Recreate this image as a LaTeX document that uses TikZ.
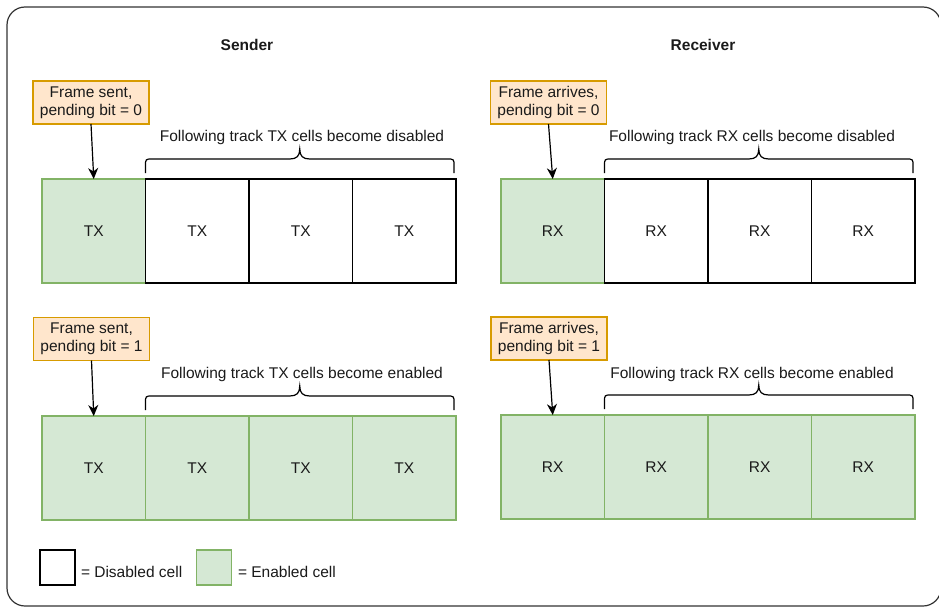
\documentclass[tikz,border=0pt]{standalone}
\usepackage{fontspec}
\setmainfont{Liberation Sans}
\usetikzlibrary{arrows.meta,calc}

\definecolor{enfill}{HTML}{D5E8D4}
\definecolor{enline}{HTML}{82B366}
\definecolor{notefill}{HTML}{FFE6CC}
\definecolor{noteline}{HTML}{D79B00}
\definecolor{framecol}{HTML}{333333}
\definecolor{ink}{HTML}{1A1A1A}

\begin{document}
\begin{tikzpicture}[x=1pt,y=-1pt,
  every node/.style={font=\fontsize{15.5}{18}\selectfont, text=ink, inner sep=0pt, outer sep=0pt},
  offcell/.style={draw=black, fill=white, line width=1.2pt, minimum width=103.5pt, minimum height=104pt},
  oncell/.style={offcell, draw=enline, fill=enfill},
  note/.style={draw=noteline, fill=notefill, line width=1.2pt, minimum width=116pt, minimum height=43pt, align=center},
  heading/.style={font=\fontsize{15.5}{18}\selectfont\bfseries},
  caption/.style={anchor=base},
  pointer/.style={-{Stealth[length=11pt,width=10pt,inset=3.5pt]}, line width=1.2pt},
  curly/.style={line width=1.2pt, to path={
    let \p1=(\tikztostart), \p2=(\tikztotarget),
        \p3=($(\tikztostart)!0.5!(\tikztotarget)$) in
    -- (\x1,\y1+7)
    .. controls (\x1,\y1+14) .. (\x1+7,\y1+14)
    -- (\x3-10,\y1+14)
    .. controls (\x3-3,\y1+14) and (\x3,\y1+17) .. (\x3,\y1+24)
    .. controls (\x3,\y1+17) and (\x3+3,\y1+14) .. (\x3+10,\y1+14)
    -- (\x2-7,\y1+14)
    .. controls (\x2,\y1+14) .. (\x2,\y1+7)
    -- (\p2)}}
]
\useasboundingbox (0,0) rectangle (939,607);

% outer frame
\draw[framecol, line width=1.2pt, rounded corners=18pt] (7,7) rectangle (941,606);

% column headings
\node[heading, anchor=base] (hs) at (247,51) {Sender};
\node[heading, anchor=base] (hr) at (703,51) {Receiver};

% ---------- sender, pending bit = 0 ----------
\node[oncell]  (sa1) at (93.75,231) {TX};
\node[offcell] (sa2) at (197.25,231) {TX};
\node[offcell] (sa3) at (300.75,231) {TX};
\node[offcell] (sa4) at (404.25,231) {TX};
\node[note] (na) at (91,102.5) {Frame sent,\\pending bit = 0};
\draw[pointer] (na.south) -- (sa1.north);
\coordinate (baL) at ($(sa2.north west)+(0,-6)$);
\coordinate (baR) at ($(sa4.north east)+(-2,-6)$);
\draw[curly] (baL) to (baR);
\node[caption] (ca) at (302,141) {Following track TX cells become disabled};

% ---------- receiver, pending bit = 0 ----------
\node[oncell]  (ra1) at (552.75,231) {RX};
\node[offcell] (ra2) at (656.25,231) {RX};
\node[offcell] (ra3) at (759.75,231) {RX};
\node[offcell] (ra4) at (863.25,231) {RX};
\node[note] (nb) at (548.5,102.5) {Frame arrives,\\pending bit = 0};
\draw[pointer] (nb.south) -- (ra1.north);
\coordinate (bbL) at ($(ra2.north west)+(0,-6)$);
\coordinate (bbR) at ($(ra4.north east)+(-2,-6)$);
\draw[curly] (bbL) to (bbR);
\node[caption] (cb) at (752,141) {Following track RX cells become disabled};

% ---------- sender, pending bit = 1 ----------
\node[oncell] (sc1) at (93.75,468) {TX};
\node[oncell] (sc2) at (197.25,468) {TX};
\node[oncell] (sc3) at (300.75,468) {TX};
\node[oncell] (sc4) at (404.25,468) {TX};
\node[note] (nc) at (91.5,339) {Frame sent,\\pending bit = 1};
\draw[pointer] (nc.south) -- (sc1.north);
\coordinate (bcL) at ($(sc2.north west)+(0,-6)$);
\coordinate (bcR) at ($(sc4.north east)+(-2,-6)$);
\draw[curly] (bcL) to (bcR);
\node[caption] (cc) at (302,378) {Following track TX cells become enabled};

% ---------- receiver, pending bit = 1 ----------
\node[oncell] (rd1) at (552.75,467) {RX};
\node[oncell] (rd2) at (656.25,467) {RX};
\node[oncell] (rd3) at (759.75,467) {RX};
\node[oncell] (rd4) at (863.25,467) {RX};
\node[note] (nd) at (549,338.5) {Frame arrives,\\pending bit = 1};
\draw[pointer] (nd.south) -- (rd1.north);
\coordinate (bdL) at ($(rd2.north west)+(0,-6)$);
\coordinate (bdR) at ($(rd4.north east)+(-2,-6)$);
\draw[curly] (bdL) to (bdR);
\node[caption] (cd) at (752,378) {Following track RX cells become enabled};

% ---------- legend ----------
\node[offcell, minimum width=35pt, minimum height=35pt] (keyoff) at (57.5,567.5) {};
\node[anchor=base west] (keyofftext) at (81,577) {= Disabled cell};
\node[oncell, minimum width=35pt, minimum height=35pt] (keyon) at (214,567.5) {};
\node[anchor=base west] (keyontext) at (238,577) {= Enabled cell};
\end{tikzpicture}
\end{document}
